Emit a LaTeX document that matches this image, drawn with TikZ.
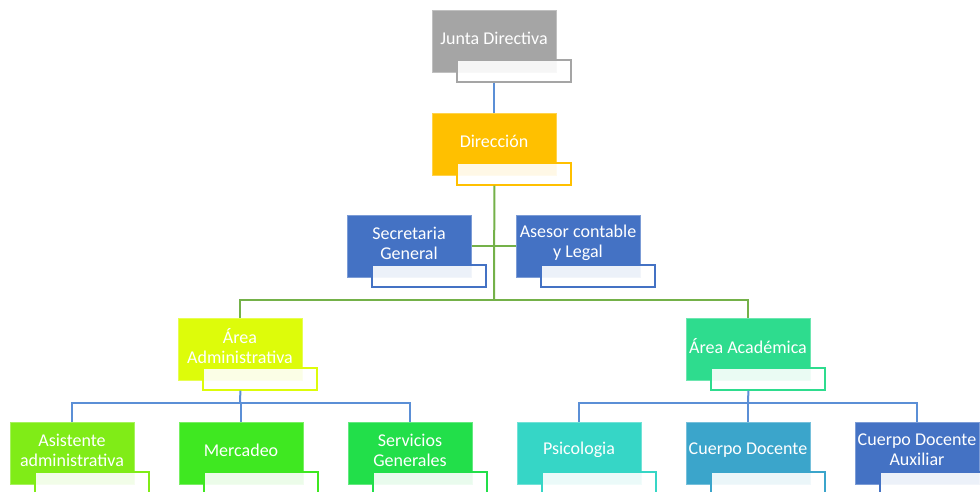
\documentclass[tikz,border=0pt]{standalone}
\usepackage{fontspec}
\setmainfont{Carlito}
\definecolor{cjunta}{HTML}{A5A5A5}
\definecolor{cdir}{HTML}{FFC000}
\definecolor{cblue}{HTML}{4472C4}
\definecolor{cadm}{HTML}{DDFC0A}
\definecolor{caca}{HTML}{2EDC8E}
\definecolor{casi}{HTML}{80EC17}
\definecolor{cmer}{HTML}{3FE821}
\definecolor{cser}{HTML}{22DF4A}
\definecolor{cpsi}{HTML}{36D6C6}
\definecolor{cdoc}{HTML}{3BA5CB}
\definecolor{lblue}{HTML}{5B8FD6}
\definecolor{lgreen}{HTML}{74B149}
\tikzset{
  mainbox/.style={rectangle, anchor=north west, minimum width=124pt, minimum height=62pt, inner sep=0pt, line width=0.8pt},
  subbox/.style={rectangle, anchor=north west, minimum width=114pt, minimum height=22pt, inner sep=0pt, line width=1.6pt, fill=white, fill opacity=0.9},
  lbl/.style={text=white, align=center, inner sep=0pt, font=\fontsize{18}{20}\selectfont},
  bline/.style={draw=lblue, line width=2pt},
  gline/.style={draw=lgreen, line width=2pt}
}
\newcommand\obox[5]{%
  \node[mainbox, fill=#2, draw=#2!70!white] (#1) at (#3,#4) {};
  \node[subbox, draw=#2] (#1s) at (#3+24,#4+49) {};
  \node[lbl] (#1t) at (#3+62,#4+28) {#5};
}
\begin{document}
\begin{tikzpicture}[x=1pt,y=-1pt]
\useasboundingbox (0,0) rectangle (980,491);
\clip (0,0) rectangle (980,491);
\coordinate (bus1) at (494,300);
\coordinate (bus2) at (240,403);
\coordinate (bus3) at (748,403);
\obox{jd}{cjunta}{432}{10}{Junta Directiva}
\obox{dir}{cdir}{432}{113}{Dirección}
\obox{sec}{cblue}{347}{215}{Secretaria\\General}
\obox{ase}{cblue}{516}{215}{Asesor contable\\y Legal}
\obox{adm}{cadm}{178}{318}{Área\\Administrativa}
\obox{aca}{caca}{686}{318}{Área Académica}
\obox{asi}{casi}{10}{422}{Asistente\\administrativa}
\obox{mer}{cmer}{179}{422}{Mercadeo}
\obox{ser}{cser}{348}{422}{Servicios\\Generales}
\obox{psi}{cpsi}{517}{422}{Psicologia}
\obox{doc}{cdoc}{686}{422}{Cuerpo Docente}
\obox{aux}{cblue}{855}{422}{Cuerpo Docente\\Auxiliar}
\draw[bline] (jd.south |- jds.south) -- (dir.north);
\draw[gline] (dir.south |- dirs.south) -- (bus1);
\draw[gline] (sec.east) -- (ase.west);
\draw[gline] (bus1) -| (adm.north);
\draw[gline] (bus1) -| (aca.north);
\draw[bline] (adm.south |- adms.south) -- (bus2);
\draw[bline] (bus2) -| (asi.north);
\draw[bline] (bus2) -| (mer.north);
\draw[bline] (bus2) -| (ser.north);
\draw[bline] (aca.south |- acas.south) -- (bus3);
\draw[bline] (bus3) -| (psi.north);
\draw[bline] (bus3) -| (doc.north);
\draw[bline] (bus3) -| (aux.north);
\end{tikzpicture}
\end{document}
